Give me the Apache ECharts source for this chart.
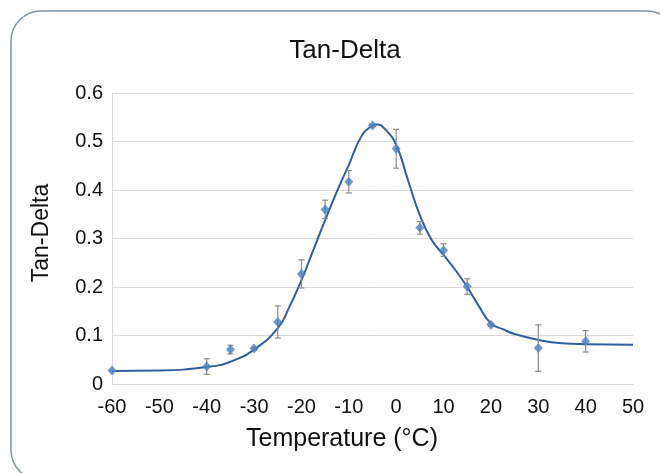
<!DOCTYPE html>
<html>
<head>
<meta charset="utf-8">
<script src="https://cdn.jsdelivr.net/npm/echarts@6/dist/echarts.min.js"></script>
<style>
html,body{margin:0;padding:0;background:#fff;}
#c{width:660px;height:473px;}
</style>
</head>
<body>
<div id="c"></div>
<script>
// Measured points (temperature °C, tan-delta, error ±)
var temps  = [-60, -40, -35, -30, -25, -20, -15, -10, -5, 0, 5, 10, 15, 20, 30, 40];
var values = [0.028, 0.036, 0.071, 0.073, 0.128, 0.227, 0.360, 0.417, 0.533, 0.485, 0.322, 0.276, 0.201, 0.122, 0.074, 0.088];
var errors = [0, 0.016, 0.009, 0.003, 0.033, 0.029, 0.019, 0.023, 0.003, 0.040, 0.013, 0.013, 0.016, 0.003, 0.048, 0.022];
// Fitted curve
var curveT = [-60, -50, -40, -35, -30, -25, -22.5, -20, -17.5, -15, -12.5, -10, -7.5, -5.5, -4, -2.5, 0, 2.5, 5, 7.5, 10, 12.5, 15, 17.5, 20, 22.5, 25, 30, 35, 40, 50];
var curveV = [0.027, 0.028, 0.035, 0.046, 0.071, 0.115, 0.160, 0.214, 0.276, 0.338, 0.397, 0.452, 0.508, 0.530, 0.535, 0.527, 0.493, 0.420, 0.348, 0.297, 0.266, 0.235, 0.200, 0.160, 0.125, 0.113, 0.103, 0.091, 0.084, 0.082, 0.081];
var xTicks = [-60, -50, -40, -30, -20, -10, 0, 10, 20, 30, 40, 50];
var yTicks = [0, 0.1, 0.2, 0.3, 0.4, 0.5, 0.6];
var titleText = 'Tan-Delta';
var xName = 'Temperature (°C)';
var yName = 'Tan-Delta';

var font = 'Liberation Sans, Arial, sans-serif';
var chart = echarts.init(document.getElementById('c'));
var pts = temps.map(function(t, i){ return [t, values[i]]; });
var errData = temps.map(function(t, i){ return [t, values[i] - errors[i], values[i] + errors[i]]; });
var curve = curveT.map(function(t, i){ return [t, curveV[i]]; });

chart.setOption({
  animation: false,
  backgroundColor: '#fff',
  graphic: [
    {
      type: 'rect', z: -1,
      shape: {x: 11, y: 11, width: 666, height: 469, r: 30},
      style: {fill: 'none', stroke: '#7e93a3', lineWidth: 1.5}
    },
    {
      type: 'text', x: 342, y: 427,
      style: {text: xName, fontFamily: font, fontSize: 25, fill: '#111', align: 'center', verticalAlign: 'top'}
    },
    {
      type: 'text', x: 30, y: 233, rotation: Math.PI / 2,
      style: {text: yName, fontFamily: font, fontSize: 23, fill: '#111', align: 'center', verticalAlign: 'top'}
    }
  ],
  title: {
    text: titleText, left: 340, top: 33, textAlign: 'center',
    textStyle: {fontFamily: font, fontSize: 26, fontWeight: 'normal', color: '#111'}
  },
  grid: {left: 112, right: 27, top: 93, bottom: 89},
  xAxis: {
    type: 'value', min: -60, max: 50, interval: 10,
    axisLine: {show: true, onZero: false, lineStyle: {color: '#d9d9d9'}},
    axisTick: {show: false},
    splitLine: {show: false},
    axisLabel: {fontFamily: font, fontSize: 20, color: '#111', margin: 13,
      formatter: function(v){ return xTicks.indexOf(v) >= 0 ? String(v) : ''; }}
  },
  yAxis: {
    type: 'value', min: 0, max: 0.6, interval: 0.1,
    axisLine: {show: true, onZero: false, lineStyle: {color: '#d9d9d9'}},
    axisTick: {show: false},
    splitLine: {show: true, lineStyle: {color: '#d9d9d9', width: 1}},
    axisLabel: {fontFamily: font, fontSize: 20, color: '#111', margin: 9,
      formatter: function(v){
        for (var i = 0; i < yTicks.length; i++) if (Math.abs(yTicks[i] - v) < 1e-9) return String(yTicks[i]);
        return '';
      }}
  },
  series: [
    {
      type: 'line', data: curve, smooth: 0.5, showSymbol: false, z: 2,
      lineStyle: {color: '#2f5f9c', width: 2}
    },
    {
      type: 'custom', data: errData, z: 3,
      renderItem: function(params, api){
        var x = api.value(0);
        var lo = api.coord([x, api.value(1)]);
        var hi = api.coord([x, api.value(2)]);
        var w = 3;
        var st = {stroke: '#8c8c8c', lineWidth: 1.2};
        return {type: 'group', children: [
          {type: 'line', shape: {x1: lo[0], y1: lo[1], x2: hi[0], y2: hi[1]}, style: st},
          {type: 'line', shape: {x1: lo[0]-w, y1: lo[1], x2: lo[0]+w, y2: lo[1]}, style: st},
          {type: 'line', shape: {x1: hi[0]-w, y1: hi[1], x2: hi[0]+w, y2: hi[1]}, style: st}
        ]};
      }
    },
    {
      type: 'scatter', data: pts, symbol: 'diamond', symbolSize: [9, 10], z: 4,
      itemStyle: {color: '#4a7fc1'}
    }
  ]
});
</script>
</body>
</html>
